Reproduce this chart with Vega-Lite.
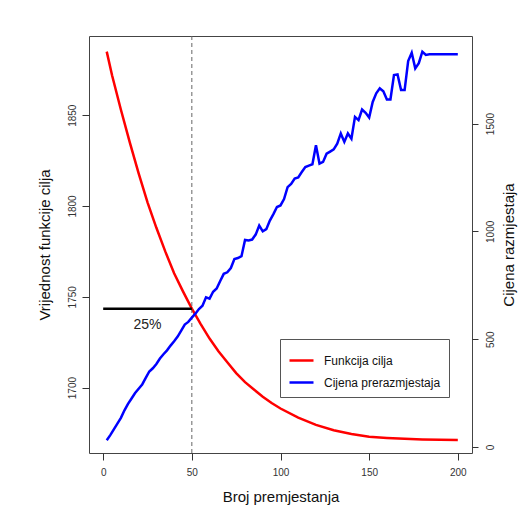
{
  "$schema": "https://vega.github.io/schema/vega-lite/v6.json",
  "width": 383,
  "height": 417,
  "autosize": "none",
  "padding": {"left": 89, "top": 36, "right": 52, "bottom": 67},
  "background": "white",
  "config": {
    "font": "Liberation Sans",
    "view": {"stroke": "#444", "strokeWidth": 1},
    "axis": {"grid": false, "domain": false, "tickColor": "#333", "labelColor": "#333", "titleColor": "#111", "labelFontSize": 10, "titleFontSize": 15, "titleFontWeight": "normal", "labelFlush": false, "labelOverlap": false, "format": "d"}
  },
  "datasets": {
    "red": [
      {"x": 2, "v": 1885, "series": "Funkcija cilja"},
      {"x": 5, "v": 1872, "series": "Funkcija cilja"},
      {"x": 10, "v": 1853, "series": "Funkcija cilja"},
      {"x": 15, "v": 1835, "series": "Funkcija cilja"},
      {"x": 20, "v": 1818, "series": "Funkcija cilja"},
      {"x": 25, "v": 1802, "series": "Funkcija cilja"},
      {"x": 30, "v": 1788, "series": "Funkcija cilja"},
      {"x": 35, "v": 1775, "series": "Funkcija cilja"},
      {"x": 40, "v": 1763, "series": "Funkcija cilja"},
      {"x": 45, "v": 1753, "series": "Funkcija cilja"},
      {"x": 50, "v": 1743.5, "series": "Funkcija cilja"},
      {"x": 55, "v": 1735, "series": "Funkcija cilja"},
      {"x": 60, "v": 1727, "series": "Funkcija cilja"},
      {"x": 65, "v": 1720, "series": "Funkcija cilja"},
      {"x": 70, "v": 1714, "series": "Funkcija cilja"},
      {"x": 75, "v": 1708, "series": "Funkcija cilja"},
      {"x": 80, "v": 1703, "series": "Funkcija cilja"},
      {"x": 85, "v": 1699, "series": "Funkcija cilja"},
      {"x": 90, "v": 1695, "series": "Funkcija cilja"},
      {"x": 95, "v": 1691.5, "series": "Funkcija cilja"},
      {"x": 100, "v": 1688.5, "series": "Funkcija cilja"},
      {"x": 110, "v": 1683.5, "series": "Funkcija cilja"},
      {"x": 120, "v": 1679.5, "series": "Funkcija cilja"},
      {"x": 130, "v": 1676.5, "series": "Funkcija cilja"},
      {"x": 140, "v": 1674.5, "series": "Funkcija cilja"},
      {"x": 150, "v": 1673, "series": "Funkcija cilja"},
      {"x": 160, "v": 1672.3, "series": "Funkcija cilja"},
      {"x": 170, "v": 1671.8, "series": "Funkcija cilja"},
      {"x": 180, "v": 1671.5, "series": "Funkcija cilja"},
      {"x": 190, "v": 1671.3, "series": "Funkcija cilja"},
      {"x": 200, "v": 1671.2, "series": "Funkcija cilja"}
    ],
    "blue": [
      {"x": 2, "v": 31, "series": "Cijena prerazmjestaja"},
      {"x": 4, "v": 55, "series": "Cijena prerazmjestaja"},
      {"x": 6, "v": 82, "series": "Cijena prerazmjestaja"},
      {"x": 8, "v": 108, "series": "Cijena prerazmjestaja"},
      {"x": 10, "v": 135, "series": "Cijena prerazmjestaja"},
      {"x": 12, "v": 170, "series": "Cijena prerazmjestaja"},
      {"x": 14, "v": 200, "series": "Cijena prerazmjestaja"},
      {"x": 16, "v": 225, "series": "Cijena prerazmjestaja"},
      {"x": 18, "v": 250, "series": "Cijena prerazmjestaja"},
      {"x": 20, "v": 270, "series": "Cijena prerazmjestaja"},
      {"x": 22, "v": 290, "series": "Cijena prerazmjestaja"},
      {"x": 24, "v": 320, "series": "Cijena prerazmjestaja"},
      {"x": 26, "v": 350, "series": "Cijena prerazmjestaja"},
      {"x": 28, "v": 365, "series": "Cijena prerazmjestaja"},
      {"x": 30, "v": 385, "series": "Cijena prerazmjestaja"},
      {"x": 32, "v": 410, "series": "Cijena prerazmjestaja"},
      {"x": 34, "v": 430, "series": "Cijena prerazmjestaja"},
      {"x": 36, "v": 448, "series": "Cijena prerazmjestaja"},
      {"x": 38, "v": 470, "series": "Cijena prerazmjestaja"},
      {"x": 40, "v": 490, "series": "Cijena prerazmjestaja"},
      {"x": 42, "v": 512, "series": "Cijena prerazmjestaja"},
      {"x": 44, "v": 540, "series": "Cijena prerazmjestaja"},
      {"x": 46, "v": 568, "series": "Cijena prerazmjestaja"},
      {"x": 48, "v": 580, "series": "Cijena prerazmjestaja"},
      {"x": 50, "v": 600, "series": "Cijena prerazmjestaja"},
      {"x": 52, "v": 618, "series": "Cijena prerazmjestaja"},
      {"x": 54, "v": 640, "series": "Cijena prerazmjestaja"},
      {"x": 56, "v": 655, "series": "Cijena prerazmjestaja"},
      {"x": 58, "v": 694, "series": "Cijena prerazmjestaja"},
      {"x": 60, "v": 688, "series": "Cijena prerazmjestaja"},
      {"x": 62, "v": 720, "series": "Cijena prerazmjestaja"},
      {"x": 64, "v": 735, "series": "Cijena prerazmjestaja"},
      {"x": 66, "v": 770, "series": "Cijena prerazmjestaja"},
      {"x": 68, "v": 803, "series": "Cijena prerazmjestaja"},
      {"x": 70, "v": 810, "series": "Cijena prerazmjestaja"},
      {"x": 72, "v": 830, "series": "Cijena prerazmjestaja"},
      {"x": 74, "v": 872, "series": "Cijena prerazmjestaja"},
      {"x": 76, "v": 876, "series": "Cijena prerazmjestaja"},
      {"x": 78, "v": 885, "series": "Cijena prerazmjestaja"},
      {"x": 80, "v": 960, "series": "Cijena prerazmjestaja"},
      {"x": 82, "v": 958, "series": "Cijena prerazmjestaja"},
      {"x": 84, "v": 962, "series": "Cijena prerazmjestaja"},
      {"x": 86, "v": 985, "series": "Cijena prerazmjestaja"},
      {"x": 88, "v": 1027, "series": "Cijena prerazmjestaja"},
      {"x": 90, "v": 1000, "series": "Cijena prerazmjestaja"},
      {"x": 92, "v": 1010, "series": "Cijena prerazmjestaja"},
      {"x": 94, "v": 1050, "series": "Cijena prerazmjestaja"},
      {"x": 96, "v": 1080, "series": "Cijena prerazmjestaja"},
      {"x": 98, "v": 1113, "series": "Cijena prerazmjestaja"},
      {"x": 100, "v": 1120, "series": "Cijena prerazmjestaja"},
      {"x": 102, "v": 1150, "series": "Cijena prerazmjestaja"},
      {"x": 104, "v": 1205, "series": "Cijena prerazmjestaja"},
      {"x": 106, "v": 1220, "series": "Cijena prerazmjestaja"},
      {"x": 108, "v": 1245, "series": "Cijena prerazmjestaja"},
      {"x": 110, "v": 1250, "series": "Cijena prerazmjestaja"},
      {"x": 112, "v": 1275, "series": "Cijena prerazmjestaja"},
      {"x": 114, "v": 1298, "series": "Cijena prerazmjestaja"},
      {"x": 116, "v": 1305, "series": "Cijena prerazmjestaja"},
      {"x": 118, "v": 1311, "series": "Cijena prerazmjestaja"},
      {"x": 120, "v": 1399, "series": "Cijena prerazmjestaja"},
      {"x": 122, "v": 1314, "series": "Cijena prerazmjestaja"},
      {"x": 124, "v": 1322, "series": "Cijena prerazmjestaja"},
      {"x": 126, "v": 1360, "series": "Cijena prerazmjestaja"},
      {"x": 128, "v": 1370, "series": "Cijena prerazmjestaja"},
      {"x": 130, "v": 1380, "series": "Cijena prerazmjestaja"},
      {"x": 132, "v": 1407, "series": "Cijena prerazmjestaja"},
      {"x": 134, "v": 1454, "series": "Cijena prerazmjestaja"},
      {"x": 136, "v": 1415, "series": "Cijena prerazmjestaja"},
      {"x": 138, "v": 1454, "series": "Cijena prerazmjestaja"},
      {"x": 140, "v": 1430, "series": "Cijena prerazmjestaja"},
      {"x": 142, "v": 1531, "series": "Cijena prerazmjestaja"},
      {"x": 144, "v": 1516, "series": "Cijena prerazmjestaja"},
      {"x": 146, "v": 1565, "series": "Cijena prerazmjestaja"},
      {"x": 148, "v": 1550, "series": "Cijena prerazmjestaja"},
      {"x": 150, "v": 1528, "series": "Cijena prerazmjestaja"},
      {"x": 152, "v": 1600, "series": "Cijena prerazmjestaja"},
      {"x": 154, "v": 1640, "series": "Cijena prerazmjestaja"},
      {"x": 156, "v": 1663, "series": "Cijena prerazmjestaja"},
      {"x": 158, "v": 1650, "series": "Cijena prerazmjestaja"},
      {"x": 160, "v": 1612, "series": "Cijena prerazmjestaja"},
      {"x": 162, "v": 1612, "series": "Cijena prerazmjestaja"},
      {"x": 164, "v": 1725, "series": "Cijena prerazmjestaja"},
      {"x": 166, "v": 1728, "series": "Cijena prerazmjestaja"},
      {"x": 168, "v": 1655, "series": "Cijena prerazmjestaja"},
      {"x": 170, "v": 1655, "series": "Cijena prerazmjestaja"},
      {"x": 172, "v": 1790, "series": "Cijena prerazmjestaja"},
      {"x": 174, "v": 1828, "series": "Cijena prerazmjestaja"},
      {"x": 176, "v": 1756, "series": "Cijena prerazmjestaja"},
      {"x": 178, "v": 1780, "series": "Cijena prerazmjestaja"},
      {"x": 180, "v": 1833, "series": "Cijena prerazmjestaja"},
      {"x": 182, "v": 1818, "series": "Cijena prerazmjestaja"},
      {"x": 184, "v": 1821, "series": "Cijena prerazmjestaja"},
      {"x": 200, "v": 1821, "series": "Cijena prerazmjestaja"}
    ],
    "vline": [{"x": 50}],
    "seg": [{"x": 0, "x2": 50, "v": 1743.4}],
    "lbl": [{"x": 25, "v": 1734.5, "label": "25%"}]
  },
  "layer": [
    {
      "layer": [
        {
          "data": {"name": "red"},
          "mark": {"type": "line", "strokeWidth": 2.5},
          "encoding": {
            "x": {"field": "x", "type": "quantitative", "scale": {"domain": [-8, 208], "nice": false, "zero": false},
              "axis": {"values": [0, 50, 100, 150, 200], "format": "d", "title": "Broj premjestanja", "tickSize": 7, "labelPadding": 7, "titleBaseline": "alphabetic", "titleY": 48}},
            "y": {"field": "v", "type": "quantitative", "scale": {"domain": [1664, 1893.6], "nice": false, "zero": false},
              "axis": {"values": [1700, 1750, 1800, 1850], "format": "d", "title": "Vrijednost funkcije cilja", "tickSize": 7, "labelAngle": -90, "labelAlign": "center", "labelBaseline": "alphabetic", "labelPadding": 6.4, "titleAngle": -90, "titleAlign": "center", "titleBaseline": "alphabetic", "titleX": -40, "titleY": 208.5}},
            "color": {"field": "series", "type": "nominal",
              "scale": {"domain": ["Funkcija cilja", "Cijena prerazmjestaja"], "range": ["#ff0000", "#0000ff"]},
              "legend": {"orient": "none", "legendX": 191, "legendY": 303, "title": null, "strokeColor": "#555", "fillColor": "white", "padding": 8, "symbolType": "stroke", "symbolStrokeWidth": 2.5, "symbolSize": 576, "labelFontSize": 12, "labelColor": "#111", "labelOffset": 9, "rowPadding": 2}}
          }
        },
        {
          "data": {"name": "vline"},
          "mark": {"type": "rule", "strokeDash": [4, 3], "color": "#666", "strokeWidth": 1},
          "encoding": {"x": {"field": "x", "type": "quantitative"}}
        },
        {
          "data": {"name": "seg"},
          "mark": {"type": "rule", "color": "#000", "strokeWidth": 2.5},
          "encoding": {"x": {"field": "x", "type": "quantitative"}, "x2": {"field": "x2"}, "y": {"field": "v", "type": "quantitative"}}
        },
        {
          "data": {"name": "lbl"},
          "mark": {"type": "text", "fontSize": 14, "color": "#222"},
          "encoding": {"x": {"field": "x", "type": "quantitative"}, "y": {"field": "v", "type": "quantitative"}, "text": {"field": "label"}}
        }
      ]
    },
    {
      "data": {"name": "blue"},
      "mark": {"type": "line", "strokeWidth": 2.5},
      "encoding": {
        "x": {"field": "x", "type": "quantitative"},
        "y": {"field": "v", "type": "quantitative", "scale": {"domain": [-28, 1906], "nice": false, "zero": false},
          "axis": {"orient": "right", "values": [0, 500, 1000, 1500], "format": "d", "title": "Cijena razmjestaja", "tickSize": 6, "labelAngle": -90, "labelAlign": "center", "labelBaseline": "alphabetic", "labelPadding": 15.6, "titleAngle": -90, "titleAlign": "center", "titleBaseline": "alphabetic", "titleX": 41, "titleY": 208.5}},
        "color": {"field": "series", "type": "nominal"}
      }
    }
  ],
  "resolve": {"scale": {"y": "independent"}}
}
